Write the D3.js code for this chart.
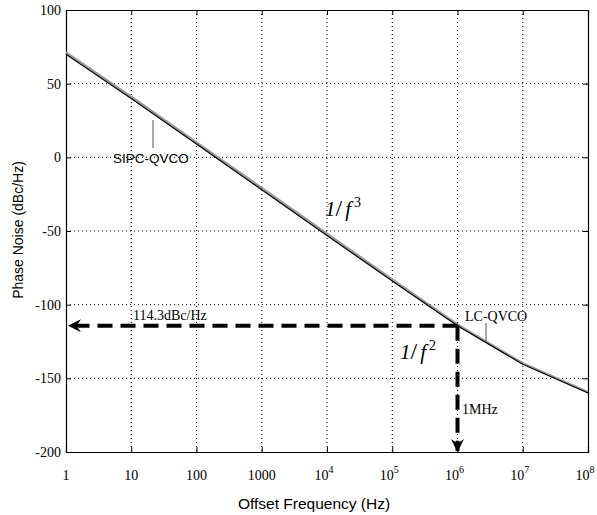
<!doctype html>
<html>
  <head>
    <script src="https://d3js.org/d3.v7.min.js"></script>
    <style>
      body { margin: 0; background: #fff; }
    </style>
  </head>
  <body>
    <svg id="chart" width="597" height="515"></svg>
    <script>
      // data
      var freqs = [1, 10, 100, 1e3, 1e4, 1e5, 1e6, 1e7, 1e8];
      var sipcQvco = [70, 40, 9, -22, -53, -84, -114.3, -140.5, -160];
      var lcQvco = [71.2, 41.2, 10.2, -20.8, -51.8, -82.8, -113.4, -139.8, -159.3];
      var xTicks = [1, 10, 100, 1000, 1e4, 1e5, 1e6, 1e7, 1e8];
      var yTicks = [-200, -150, -100, -50, 0, 50, 100];
      var markFreq = 1e6;
      var markLevel = -114.3;

      var svg = d3.select('#chart');

      var x = d3.scaleLog().domain([1, 1e8]).range([66, 588]);
      var y = d3.scaleLinear().domain([-200, 100]).range([452, 10]);

      var defs = svg.append('defs');
      defs.append('marker')
        .attr('id', 'head')
        .attr('viewBox', '0 0 12 12')
        .attr('refX', 11).attr('refY', 6)
        .attr('markerWidth', 13).attr('markerHeight', 13)
        .attr('markerUnits', 'userSpaceOnUse')
        .attr('orient', 'auto')
        .append('path')
        .attr('d', 'M0,0 L12,6 L0,12 L4,6 Z')
        .style('fill', '#000');

      // grid
      svg.append('g')
        .selectAll('line.vg')
        .data(xTicks.slice(1, -1))
        .enter()
        .append('line')
        .attr('x1', d => x(d)).attr('x2', d => x(d))
        .attr('y1', y(100)).attr('y2', y(-200))
        .style('stroke', '#000')
        .style('stroke-width', 1)
        .style('stroke-dasharray', '1,3');

      svg.append('g')
        .selectAll('line.hg')
        .data(yTicks.slice(1, -1))
        .enter()
        .append('line')
        .attr('x1', x(1)).attr('x2', x(1e8))
        .attr('y1', d => y(d)).attr('y2', d => y(d))
        .style('stroke', '#000')
        .style('stroke-width', 1)
        .style('stroke-dasharray', '1,3');

      // axes with inward ticks
      var xAxis = d3.axisBottom(x).tickValues(xTicks).tickSize(-5).tickFormat('');
      var xAxisTop = d3.axisTop(x).tickValues(xTicks).tickSize(-5).tickFormat('');
      var yAxis = d3.axisLeft(y).tickValues(yTicks).tickSize(-5).tickFormat('');
      var yAxisRight = d3.axisRight(y).tickValues(yTicks).tickSize(-5).tickFormat('');

      svg.append('g').attr('transform', 'translate(0,' + y(-200) + ')').call(xAxis);
      svg.append('g').attr('transform', 'translate(0,' + y(100) + ')').call(xAxisTop);
      svg.append('g').attr('transform', 'translate(' + x(1) + ',0)').call(yAxis);
      svg.append('g').attr('transform', 'translate(' + x(1e8) + ',0)').call(yAxisRight);
      svg.selectAll('.domain').style('stroke', '#000').style('stroke-width', 1.2);
      svg.selectAll('.tick line').style('stroke', '#000');

      // tick labels
      var serif = '"Liberation Serif", "Times New Roman", serif';
      var sans = '"Liberation Sans", Arial, sans-serif';

      var xl = svg.append('g')
        .selectAll('text.xl')
        .data(xTicks)
        .enter()
        .append('text')
        .attr('x', d => x(d))
        .attr('y', 480)
        .attr('text-anchor', 'middle')
        .style('font-family', serif)
        .style('font-size', '14px');
      xl.each(function(d, i) {
        var t = d3.select(this);
        if (d <= 1000) {
          t.text(d);
        } else {
          t.attr('dx', -3);
          t.append('tspan').text('10');
          t.append('tspan')
            .attr('dy', -7)
            .style('font-size', '10px')
            .text(Math.round(Math.log10(d)));
        }
      });

      svg.append('g')
        .selectAll('text.yl')
        .data(yTicks)
        .enter()
        .append('text')
        .attr('x', x(1) - 5)
        .attr('y', d => y(d) + 5)
        .attr('text-anchor', 'end')
        .style('font-family', serif)
        .style('font-size', '14px')
        .text(d => d);

      // axis titles
      svg.append('text')
        .attr('x', 314).attr('y', 509)
        .attr('text-anchor', 'middle')
        .style('font-family', sans)
        .style('font-size', '15.5px')
        .text('Offset Frequency (Hz)');

      svg.append('text')
        .attr('transform', 'translate(23,230) rotate(-90)')
        .attr('text-anchor', 'middle')
        .style('font-family', sans)
        .style('font-size', '14px')
        .text('Phase Noise (dBc/Hz)');

      // curves
      var line = d3.line()
        .x(d => x(d[0]))
        .y(d => y(d[1]));

      svg.append('path')
        .datum(d3.zip(freqs, lcQvco))
        .attr('d', line)
        .style('fill', 'none')
        .style('stroke', '#999')
        .style('stroke-width', 2.2);

      svg.append('path')
        .datum(d3.zip(freqs, sipcQvco))
        .attr('d', line)
        .style('fill', 'none')
        .style('stroke', '#000')
        .style('stroke-width', 1.2);

      // dashed arrows at 1 MHz
      svg.append('line')
        .attr('x1', x(markFreq)).attr('y1', y(markLevel))
        .attr('x2', x(1) + 3).attr('y2', y(markLevel))
        .attr('marker-end', 'url(#head)')
        .style('stroke', '#000')
        .style('stroke-width', 4)
        .style('stroke-dasharray', '15,8');

      svg.append('line')
        .attr('x1', x(markFreq)).attr('y1', y(markLevel))
        .attr('x2', x(markFreq)).attr('y2', y(-200) - 1)
        .attr('marker-end', 'url(#head)')
        .style('stroke', '#000')
        .style('stroke-width', 4)
        .style('stroke-dasharray', '15,8');

      // annotations
      svg.append('text')
        .attr('x', 133).attr('y', 320)
        .style('font-family', serif)
        .style('font-size', '14px')
        .text('114.3dBc/Hz');

      svg.append('text')
        .attr('x', 462).attr('y', 414)
        .style('font-family', serif)
        .style('font-size', '14px')
        .text('1MHz');

      svg.append('line')
        .attr('x1', 153).attr('y1', 120)
        .attr('x2', 153).attr('y2', 148)
        .style('stroke', '#555')
        .style('stroke-width', 1);

      svg.append('text')
        .attr('x', 113).attr('y', 163)
        .style('font-family', sans)
        .style('font-size', '13.5px')
        .text('SIPC-QVCO');

      svg.append('line')
        .attr('x1', 486).attr('y1', 323)
        .attr('x2', 486).attr('y2', 341)
        .style('stroke', '#555')
        .style('stroke-width', 1);

      svg.append('text')
        .attr('x', 465).attr('y', 321)
        .style('font-family', serif)
        .style('font-size', '14px')
        .text('LC-QVCO');

      function slopeLabel(px, py, pw) {
        var t = svg.append('text')
          .attr('x', px).attr('y', py)
          .style('font-family', serif)
          .style('font-style', 'italic')
          .style('font-size', '21px');
        t.append('tspan').text('1');
        t.append('tspan').attr('dx', 0).style('font-style', 'normal').style('font-size', '24px').text('/');
        t.append('tspan').attr('dx', 3).text('f');
        t.append('tspan').attr('dx', 3).attr('dy', -9).style('font-size', '14px').style('font-style', 'normal').text(pw);
      }
      slopeLabel(325, 216, '3');
      slopeLabel(400, 359, '2');
    </script>
  </body>
</html>
